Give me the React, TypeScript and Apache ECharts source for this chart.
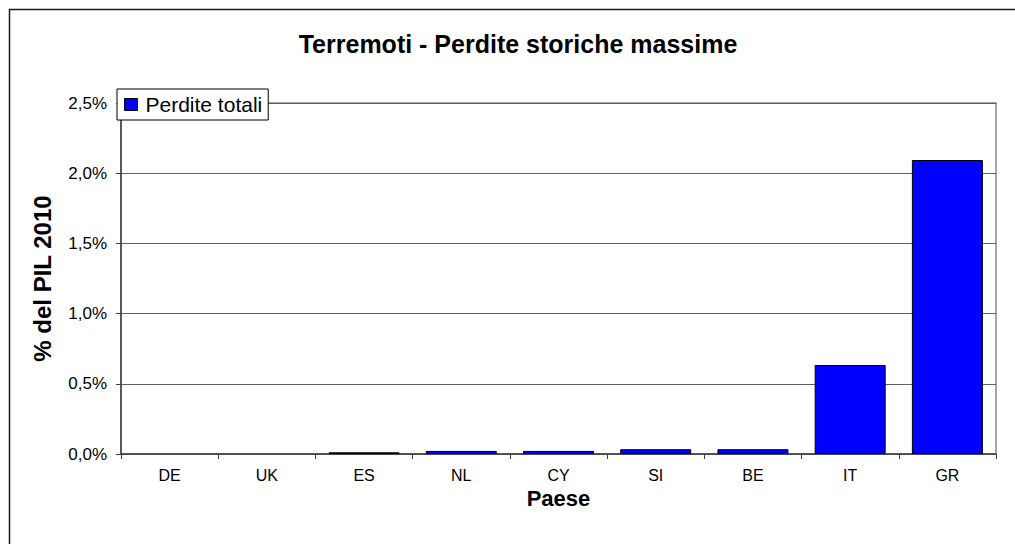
import React, { useEffect, useRef } from "react";
import * as echarts from "echarts";

const categories = ["DE", "UK", "ES", "NL", "CY", "SI", "BE", "IT", "GR"];
const perditeTotali = [0, 0, 0.012, 0.022, 0.022, 0.034, 0.034, 0.634, 2.094];
const seriesName = "Perdite totali";
const titleText = "Terremoti - Perdite storiche massime";
const xName = "Paese";
const yName = "% del PIL 2010";

const FONT = "'Liberation Sans', Arial, sans-serif";

export default function App() {
  const ref = useRef<HTMLDivElement>(null);
  useEffect(() => {
    document.body.style.margin = "0";
    const chart = echarts.init(ref.current!, null, { renderer: "svg" });
    chart.setOption({
      animation: false,
      backgroundColor: "#ffffff",
      title: {
        text: titleText,
        left: 513,
        top: 26,
        textAlign: "center",
        textStyle: { fontFamily: FONT, fontSize: 25, fontWeight: "bold", color: "#000" },
      },
      graphic: [
        {
          type: "rect",
          shape: { x: 9.5, y: 9.5, width: 1100, height: 700 },
          style: { fill: "none", stroke: "#1a1a1a", lineWidth: 1.5 },
          silent: true,
          z: 100,
        },
      ],
      legend: {
        left: 117,
        top: 89,
        padding: [4, 6, 4, 7],
        itemWidth: 13,
        itemHeight: 12,
        itemGap: 0,
        borderColor: "#000",
        borderWidth: 1,
        backgroundColor: "#fff",
        icon: "rect",
        textStyle: { fontFamily: FONT, fontSize: 21, color: "#000", lineHeight: 23, padding: [0, 0, 0, 3] },
        data: [{ name: seriesName, itemStyle: { color: "#0000ff", borderColor: "#000", borderWidth: 1 } }],
      },
      grid: {
        left: 121,
        right: 19,
        top: 103,
        bottom: 90,
        show: true,
        borderColor: "#a6a6a6",
        borderWidth: 2,
        containLabel: false,
      },
      xAxis: {
        type: "category",
        data: categories,
        name: xName,
        nameLocation: "middle",
        nameGap: 34,
        nameMoveOverlap: false,
        nameTextStyle: { fontFamily: FONT, fontSize: 22, fontWeight: "bold", color: "#000", lineHeight: 20 },
        axisLine: { lineStyle: { color: "#404040", width: 1.5 } },
        axisTick: { show: true, alignWithLabel: false, length: 5, lineStyle: { color: "#404040" } },
        axisLabel: { fontFamily: FONT, fontSize: 16, color: "#000", margin: 14, lineHeight: 14 },
      },
      yAxis: {
        type: "value",
        min: 0,
        max: 2.5,
        interval: 0.5,
        name: yName,
        nameLocation: "middle",
        nameGap: 67,
        nameRotate: 90,
        nameTextStyle: { fontFamily: FONT, fontSize: 24, fontWeight: "bold", color: "#000" },
        axisLine: { show: true, lineStyle: { color: "#404040", width: 1.5 } },
        axisTick: { show: true, length: 5, lineStyle: { color: "#404040" } },
        axisLabel: {
          fontFamily: FONT,
          fontSize: 17,
          color: "#000",
          margin: 14,
          formatter: (v: number) => v.toFixed(1).replace(".", ",") + "%",
        },
        splitLine: { show: true, lineStyle: { color: "#606060", width: 1 } },
      },
      series: [
        {
          name: seriesName,
          type: "bar",
          data: perditeTotali.map((v) => ({
            value: v,
            itemStyle: v === 0 ? { borderWidth: 0 } : undefined,
          })),
          barWidth: 71,
          itemStyle: { color: "#0000ff", borderColor: "#000", borderWidth: 1 },
        },
      ],
    });
    return () => chart.dispose();
  }, []);
  return <div ref={ref} style={{ width: 1015, height: 544 }} />;
}
